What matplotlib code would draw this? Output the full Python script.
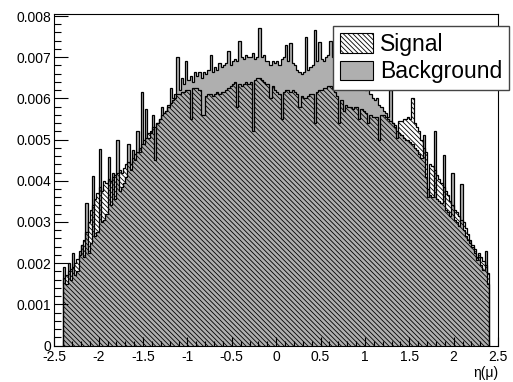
import matplotlib
matplotlib.use("Agg")
import matplotlib.pyplot as plt
from matplotlib.patches import Patch
from matplotlib.ticker import MultipleLocator, FuncFormatter
import numpy as np

plt.rcParams['font.family'] = ['Liberation Sans', 'DejaVu Sans']
plt.rcParams['axes.unicode_minus'] = False
plt.rcParams['hatch.linewidth'] = 0.6

# eta(mu) binning: 192 bins of 0.025 between -2.4 and 2.4
eta_lo, eta_hi, n_bins = -2.4, 2.4, 192

# normalised bin contents, in units of 1e-5
signal = [
    165, 170, 180, 185, 190, 200, 210, 220,
    245, 255, 275, 300, 330, 340, 355, 370,
    385, 375, 400, 395, 405, 400, 410, 415,
    420, 425, 420, 430, 440, 445, 440, 455,
    465, 470, 480, 490, 500, 505, 515, 520,
    530, 450, 540, 550, 560, 565, 570, 580,
    590, 595, 600, 610, 610, 615, 615, 620,
    620, 550, 625, 625, 625, 620, 560, 560,
    605, 610, 610, 605, 610, 615, 610, 615,
    615, 620, 625, 630, 635, 640, 580, 635,
    630, 635, 640, 635, 640, 520, 645, 650,
    650, 645, 640, 635, 635, 600, 630, 620,
    615, 610, 550, 615, 620, 620, 615, 620,
    615, 610, 580, 605, 600, 600, 605, 610,
    610, 540, 615, 620, 620, 625, 625, 630,
    630, 625, 615, 605, 540, 595, 570, 585,
    580, 580, 575, 580, 580, 550, 575, 570,
    565, 540, 560, 555, 555, 555, 500, 560,
    560, 555, 550, 545, 540, 535, 505, 545,
    545, 550, 550, 555, 550, 600, 540, 530,
    520, 500, 480, 470, 360, 440, 435, 425,
    415, 405, 395, 385, 375, 365, 350, 340,
    330, 325, 315, 305, 300, 285, 270, 255,
    245, 235, 215, 225, 215, 205, 195, 175,
]

background = [
    190, 150, 200, 160, 225, 170, 180, 230,
    245, 215, 345, 225, 250, 412, 265, 275,
    478, 300, 305, 320, 458, 340, 420, 355,
    500, 375, 385, 395, 410, 490, 425, 475,
    450, 520, 470, 615, 490, 575, 505, 515,
    560, 530, 540, 550, 580, 565, 570, 585,
    625, 600, 610, 700, 620, 650, 635, 690,
    645, 655, 640, 665, 655, 665, 650, 665,
    660, 670, 705, 665, 675, 670, 685, 675,
    680, 685, 715, 680, 690, 695, 690, 740,
    700, 695, 705, 700, 700, 710, 695, 700,
    770, 700, 705, 690, 690, 680, 690, 685,
    690, 680, 695, 700, 730, 690, 735, 685,
    680, 670, 665, 660, 665, 750, 670, 675,
    680, 765, 690, 737, 695, 690, 700, 705,
    740, 700, 695, 700, 690, 685, 680, 675,
    670, 665, 660, 655, 650, 640, 635, 625,
    620, 630, 610, 600, 595, 600, 585, 580,
    570, 565, 555, 620, 540, 530, 520, 515,
    510, 505, 500, 500, 495, 490, 480, 475,
    465, 455, 510, 410, 380, 365, 360, 522,
    355, 350, 345, 462, 330, 323, 315, 420,
    305, 300, 290, 392, 280, 265, 255, 249,
    240, 225, 207, 215, 195, 183, 230, 150,
]

edges = np.linspace(eta_lo, eta_hi, n_bins + 1)
sig = np.array(signal) * 1e-5
bkg = np.array(background) * 1e-5

fig = plt.figure(figsize=(5.13, 3.82), dpi=100)
ax = fig.add_axes([0.1058, 0.0955, 0.865, 0.868])

bkg_color = '#afafaf'
sig_hatch = '\\' * 7

# background: grey fill
ax.stairs(bkg, edges, fill=True, facecolor=bkg_color, edgecolor=bkg_color,
          linewidth=0, zorder=1)
# signal: hatched, no fill, so the background shows through underneath
ax.stairs(sig, edges, fill=True, facecolor='none', edgecolor='black',
          hatch=sig_hatch, linewidth=0, zorder=1.2)
# outlines
ax.stairs(bkg, edges, fill=False, baseline=0, color='black', linewidth=0.9, zorder=1.5)
ax.stairs(sig, edges, fill=False, baseline=0, color='black', linewidth=0.9, zorder=1.6)

ax.set_xlim(-2.5, 2.5)
ax.set_ylim(0, 0.00805)

ax.xaxis.set_major_locator(MultipleLocator(0.5))
ax.xaxis.set_minor_locator(MultipleLocator(0.1))
ax.yaxis.set_major_locator(MultipleLocator(0.001))
ax.yaxis.set_minor_locator(MultipleLocator(0.0002))
fmt = FuncFormatter(lambda v, p: f"{v:g}" if abs(v) > 1e-12 else "0")
ax.xaxis.set_major_formatter(fmt)
ax.yaxis.set_major_formatter(fmt)

ax.tick_params(which='both', direction='in', top=False, right=False,
               labelsize=10, width=0.8)
ax.tick_params(axis='y', which='major', length=10, pad=2)
ax.tick_params(axis='y', which='minor', length=5)
ax.tick_params(axis='x', which='major', length=6.5, pad=3)
ax.tick_params(axis='x', which='minor', length=3.5)

for s in ax.spines.values():
    s.set_linewidth(0.8)

ax.set_xlabel('η(μ)', loc='right', fontsize=10, labelpad=2)

handles = [
    Patch(facecolor='white', edgecolor='black', hatch=sig_hatch, linewidth=0.8),
    Patch(facecolor=bkg_color, edgecolor='black', linewidth=0.8),
]
leg = ax.legend(handles, ['Signal', 'Background'], loc='upper right',
                bbox_to_anchor=(509 / 513, 1 - 26 / 382),
                bbox_transform=fig.transFigure, borderaxespad=0,
                fontsize=16.5, fancybox=False, framealpha=1, edgecolor='#444444',
                borderpad=0.3, handlelength=1.45, handleheight=0.95,
                handletextpad=0.3, labelspacing=0.2)
leg.get_frame().set_linewidth(1.0)
leg.set_zorder(5)

fig.savefig('out.png', dpi=100)
